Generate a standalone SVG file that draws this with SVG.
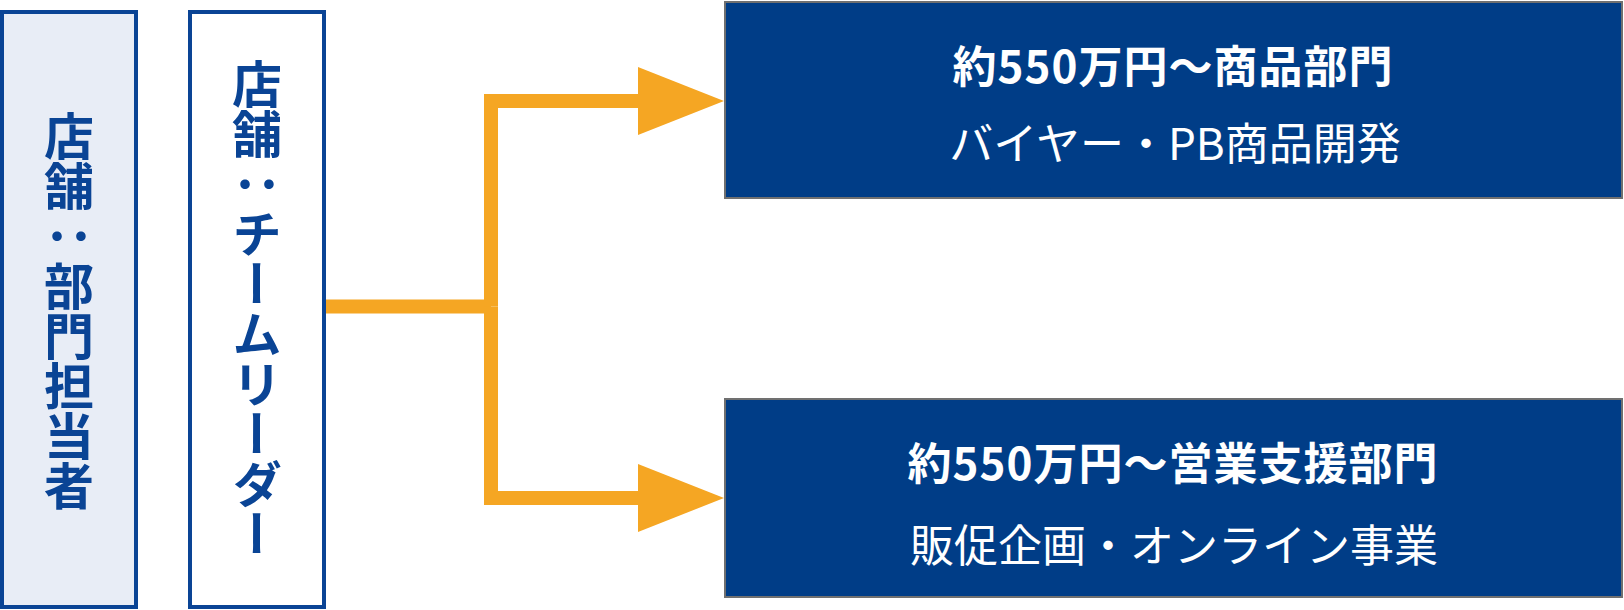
<svg xmlns="http://www.w3.org/2000/svg" width="1624" height="610" viewBox="0 0 1624 610">
<style>
.side{stroke:#0A4495;stroke-width:4}
.vt{font-family:"Noto Sans CJK JP","Noto Sans",sans-serif;font-weight:700;font-size:50px;fill:#0A4495;writing-mode:vertical-rl;text-anchor:middle}
.dept{fill:#003D87;stroke:#707070;stroke-width:2}
.t1{font-family:"Noto Sans CJK JP","Noto Sans",sans-serif;font-weight:700;font-size:44px;letter-spacing:1px;fill:#FFFFFF;text-anchor:middle;dominant-baseline:central}
.t2{font-family:"Noto Sans CJK JP","Noto Sans",sans-serif;font-weight:400;font-size:44px;fill:#FFFFFF;text-anchor:middle;dominant-baseline:central}
.conn{fill:none;stroke:#F5A623;stroke-width:14;stroke-linejoin:miter}
</style>
<defs>
<marker id="ah" markerUnits="userSpaceOnUse" markerWidth="86" markerHeight="68" refX="0" refY="34" orient="auto" viewBox="0 0 86 68">
<path d="M0,0 L86,34 L0,68 Z" fill="#F5A623"/>
</marker>
</defs>
<rect width="1624" height="610" fill="#FFFFFF"/>
<g id="node-staff">
<rect class="side" x="2" y="12" width="134" height="595" fill="#E8EDF6"/>
<text class="vt" x="69" y="311">店舗：部門担当者</text>
</g>
<g id="node-leader">
<rect class="side" x="190" y="12" width="134" height="595" fill="#FFFFFF"/>
<text class="vt" x="257" y="309">店舗：チームリーダー</text>
</g>
<g id="node-product">
<rect class="dept" x="725" y="2" width="897" height="196"/>
<text class="t1" x="1173" y="64">約550万円〜商品部門</text>
<text class="t2" x="1175" y="141">バイヤー・PB商品開発</text>
</g>
<g id="node-sales">
<rect class="dept" x="725" y="399" width="897" height="198"/>
<text class="t1" x="1173" y="461">約550万円〜営業支援部門</text>
<text class="t2" x="1174" y="543">販促企画・オンライン事業</text>
</g>
<g id="connectors">
<path class="conn" d="M326,306.5 H491"/>
<path class="conn" d="M491,306.5 V101 H638" marker-end="url(#ah)"/>
<path class="conn" d="M491,306.5 V498 H638" marker-end="url(#ah)"/>
</g>
</svg>
